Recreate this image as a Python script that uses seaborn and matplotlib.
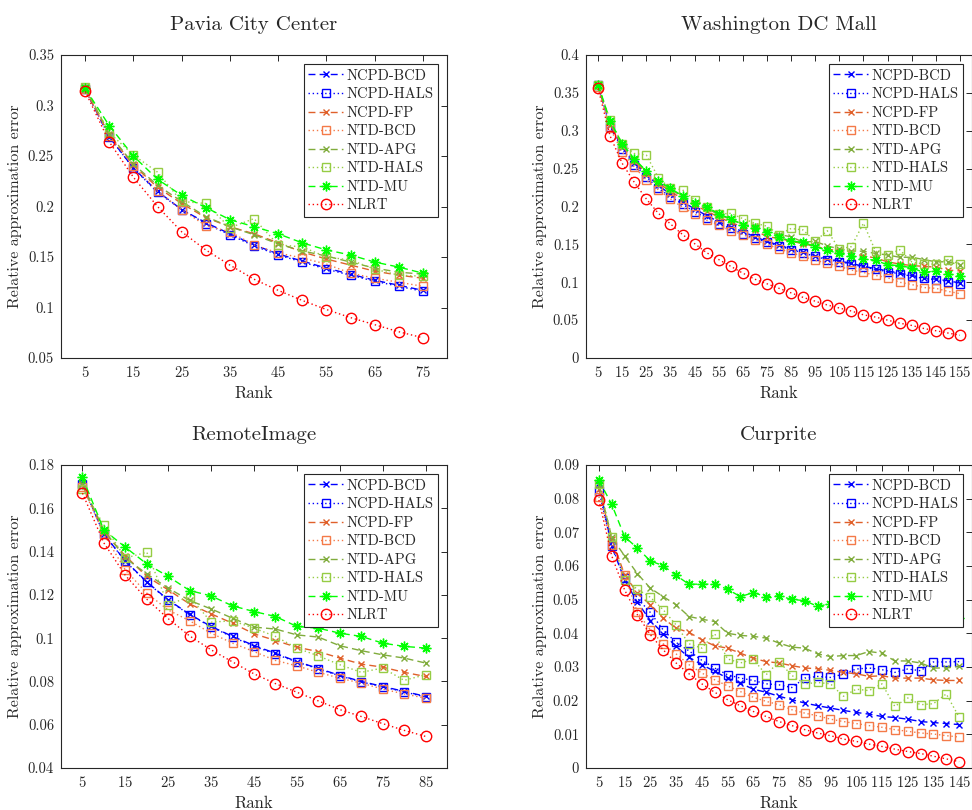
import matplotlib
matplotlib.use("Agg")
import matplotlib.pyplot as plt
import pandas as pd
import seaborn as sns

# ---- data ----
methods = ["NCPD-BCD", "NCPD-HALS", "NCPD-FP", "NTD-BCD", "NTD-APG", "NTD-HALS", "NTD-MU", "NLRT"]

pavia_rank = list(range(5, 80, 5))
pavia_ncpd_bcd = [0.316, 0.269, 0.238, 0.215, 0.197, 0.184, 0.173, 0.162, 0.153, 0.146, 0.139, 0.133, 0.127, 0.122, 0.117]
pavia_ncpd_hals = [0.316, 0.269, 0.238, 0.214, 0.197, 0.183, 0.172, 0.161, 0.152, 0.145, 0.138, 0.132, 0.126, 0.121, 0.116]
pavia_ncpd_fp = [0.316, 0.271, 0.241, 0.219, 0.203, 0.189, 0.180, 0.173, 0.164, 0.155, 0.148, 0.142, 0.136, 0.132, 0.129]
pavia_ntd_bcd = [0.316, 0.270, 0.240, 0.215, 0.197, 0.181, 0.175, 0.162, 0.154, 0.149, 0.143, 0.134, 0.129, 0.125, 0.121]
pavia_ntd_apg = [0.318, 0.272, 0.242, 0.221, 0.205, 0.190, 0.180, 0.172, 0.163, 0.156, 0.151, 0.145, 0.139, 0.135, 0.133]
pavia_ntd_hals = [0.318, 0.273, 0.251, 0.234, 0.205, 0.203, 0.179, 0.188, 0.162, 0.160, 0.150, 0.147, 0.138, 0.132, 0.131]
pavia_ntd_mu = [0.317, 0.280, 0.250, 0.227, 0.211, 0.199, 0.187, 0.180, 0.173, 0.164, 0.157, 0.152, 0.145, 0.140, 0.134]
pavia_nlrt = [0.314, 0.264, 0.229, 0.200, 0.175, 0.157, 0.142, 0.128, 0.117, 0.107, 0.098, 0.090, 0.083, 0.076, 0.070]

dc_rank = list(range(5, 160, 5))
dc_ncpd_bcd = [0.360, 0.307, 0.278, 0.258, 0.242, 0.228, 0.216, 0.206, 0.197, 0.188, 0.180, 0.173, 0.167, 0.160, 0.154, 0.149,
               0.144, 0.140, 0.135, 0.131, 0.128, 0.125, 0.121, 0.118, 0.115, 0.112, 0.109, 0.106, 0.104, 0.102, 0.099]
dc_ncpd_hals = [0.360, 0.305, 0.276, 0.255, 0.239, 0.224, 0.213, 0.203, 0.193, 0.185, 0.177, 0.171, 0.164, 0.158, 0.153, 0.148,
                0.143, 0.139, 0.134, 0.130, 0.127, 0.124, 0.120, 0.117, 0.114, 0.111, 0.108, 0.105, 0.103, 0.100, 0.098]
dc_ncpd_fp = [0.360, 0.308, 0.280, 0.260, 0.244, 0.231, 0.220, 0.210, 0.202, 0.194, 0.186, 0.179, 0.173, 0.169, 0.160, 0.158,
              0.154, 0.151, 0.147, 0.144, 0.141, 0.138, 0.135, 0.132, 0.127, 0.124, 0.122, 0.121, 0.120, 0.116, 0.115]
dc_ntd_bcd = [0.358, 0.303, 0.272, 0.252, 0.235, 0.222, 0.210, 0.199, 0.190, 0.182, 0.175, 0.168, 0.163, 0.156, 0.150, 0.144,
              0.139, 0.134, 0.129, 0.125, 0.121, 0.116, 0.113, 0.109, 0.106, 0.100, 0.097, 0.093, 0.092, 0.088, 0.085]
dc_ntd_apg = [0.361, 0.311, 0.281, 0.262, 0.246, 0.233, 0.223, 0.213, 0.205, 0.198, 0.189, 0.183, 0.176, 0.174, 0.167, 0.163,
              0.160, 0.153, 0.154, 0.148, 0.144, 0.141, 0.141, 0.138, 0.136, 0.133, 0.133, 0.130, 0.127, 0.127, 0.123]
dc_ntd_hals = [0.361, 0.314, 0.283, 0.270, 0.268, 0.238, 0.224, 0.222, 0.209, 0.200, 0.190, 0.191, 0.184, 0.178, 0.174, 0.163,
               0.171, 0.169, 0.154, 0.168, 0.144, 0.147, 0.178, 0.141, 0.136, 0.143, 0.127, 0.124, 0.124, 0.130, 0.124]
dc_ntd_mu = [0.361, 0.313, 0.283, 0.263, 0.247, 0.234, 0.224, 0.214, 0.205, 0.200, 0.190, 0.184, 0.176, 0.171, 0.166, 0.160,
             0.154, 0.153, 0.147, 0.142, 0.138, 0.134, 0.131, 0.129, 0.123, 0.122, 0.119, 0.113, 0.115, 0.111, 0.108]
dc_nlrt = [0.356, 0.293, 0.257, 0.232, 0.210, 0.191, 0.177, 0.163, 0.151, 0.139, 0.130, 0.121, 0.112, 0.104, 0.098, 0.092,
           0.086, 0.080, 0.075, 0.070, 0.066, 0.062, 0.057, 0.054, 0.050, 0.046, 0.043, 0.039, 0.036, 0.033, 0.030]

remote_rank = list(range(5, 90, 5))
remote_ncpd_bcd = [0.1715, 0.148, 0.1357, 0.126, 0.1177, 0.111, 0.1054, 0.1008, 0.0966, 0.093, 0.0892, 0.086, 0.0828, 0.080, 0.0777, 0.0754, 0.0731]
remote_ncpd_hals = [0.171, 0.148, 0.1355, 0.1258, 0.1175, 0.1108, 0.1052, 0.1005, 0.0963, 0.0926, 0.0890, 0.0858, 0.0826, 0.0798, 0.0775, 0.0752, 0.0728]
remote_ncpd_fp = [0.171, 0.149, 0.138, 0.1285, 0.1223, 0.1158, 0.1112, 0.1069, 0.102, 0.0989, 0.0958, 0.0938, 0.0908, 0.088, 0.0866, 0.0842, 0.0823]
remote_ntd_bcd = [0.170, 0.148, 0.1315, 0.1208, 0.113, 0.108, 0.1023, 0.0977, 0.0938, 0.0897, 0.0872, 0.0842, 0.0815, 0.0792, 0.0765, 0.0742, 0.0723]
remote_ntd_apg = [0.171, 0.150, 0.137, 0.1297, 0.1231, 0.1174, 0.1135, 0.1092, 0.1051, 0.1042, 0.1015, 0.1005, 0.0965, 0.0942, 0.0923, 0.0908, 0.0885]
remote_ntd_hals = [0.169, 0.1523, 0.137, 0.1397, 0.1154, 0.1192, 0.1074, 0.108, 0.1046, 0.1008, 0.0954, 0.0918, 0.0877, 0.0842, 0.0862, 0.0805, 0.0831]
remote_ntd_mu = [0.1743, 0.150, 0.142, 0.1343, 0.1285, 0.122, 0.1195, 0.1149, 0.1123, 0.110, 0.1054, 0.1046, 0.1023, 0.1008, 0.0977, 0.0962, 0.0954]
remote_nlrt = [0.167, 0.144, 0.129, 0.118, 0.109, 0.101, 0.0946, 0.089, 0.0835, 0.079, 0.075, 0.071, 0.067, 0.0638, 0.0605, 0.0574, 0.0546]

cup_rank = list(range(5, 150, 5))
cup_ncpd_bcd = [0.0846, 0.0658, 0.0559, 0.0492, 0.0438, 0.0399, 0.0361, 0.0329, 0.0307, 0.0287, 0.0267, 0.0252, 0.0234, 0.0225, 0.0213,
                0.0203, 0.0193, 0.0185, 0.0178, 0.0171, 0.0165, 0.016, 0.0153, 0.015, 0.0145, 0.0138, 0.0135, 0.0132, 0.0129]
cup_ncpd_hals = [0.0824, 0.066, 0.0564, 0.0504, 0.0462, 0.041, 0.0373, 0.0348, 0.032, 0.0297, 0.0277, 0.0267, 0.026, 0.025, 0.0247,
                 0.0239, 0.0267, 0.0272, 0.0269, 0.0279, 0.0294, 0.0297, 0.0292, 0.0284, 0.0294, 0.0289, 0.0315, 0.0315, 0.0316]
cup_ncpd_fp = [0.083, 0.068, 0.0574, 0.0519, 0.0485, 0.0445, 0.0415, 0.0403, 0.0381, 0.0363, 0.0356, 0.0341, 0.0326, 0.0316, 0.0312,
               0.0304, 0.0297, 0.0295, 0.029, 0.0284, 0.028, 0.0272, 0.0274, 0.0267, 0.0267, 0.0267, 0.0262, 0.026, 0.026]
cup_ntd_bcd = [0.0806, 0.0662, 0.0574, 0.0462, 0.041, 0.0369, 0.0339, 0.0307, 0.0282, 0.0262, 0.0244, 0.0227, 0.021, 0.0198, 0.0188,
               0.0173, 0.0163, 0.0155, 0.0145, 0.0138, 0.0132, 0.0126, 0.0121, 0.0114, 0.0109, 0.0104, 0.0101, 0.0096, 0.0092]
cup_ntd_apg = [0.084, 0.0685, 0.063, 0.0577, 0.0534, 0.0509, 0.0485, 0.045, 0.0442, 0.0435, 0.04, 0.0394, 0.0391, 0.0386, 0.0371,
               0.0359, 0.0356, 0.0339, 0.0331, 0.0334, 0.0334, 0.0346, 0.0341, 0.0318, 0.0318, 0.0312, 0.0297, 0.0297, 0.0302]
cup_ntd_hals = [0.0845, 0.0685, 0.0559, 0.0531, 0.0507, 0.047, 0.0425, 0.0369, 0.0356, 0.0399, 0.0324, 0.0312, 0.0323, 0.0277, 0.0316,
                0.0275, 0.025, 0.0254, 0.025, 0.0213, 0.0234, 0.023, 0.025, 0.0183, 0.0208, 0.0188, 0.0191, 0.022, 0.0151]
cup_ntd_mu = [0.0855, 0.0783, 0.0687, 0.0653, 0.0615, 0.0601, 0.0572, 0.0546, 0.0546, 0.0546, 0.0531, 0.0509, 0.0521, 0.0509, 0.0511,
              0.0501, 0.0497, 0.048, 0.0488, 0.049, 0.0485, 0.048, 0.047, 0.0465, 0.046, 0.0452, 0.0445, 0.0442, 0.0445]
cup_nlrt = [0.0796, 0.063, 0.0529, 0.0455, 0.0396, 0.0351, 0.0312, 0.028, 0.025, 0.0225, 0.0203, 0.0185, 0.0168, 0.0153, 0.0138,
            0.0126, 0.0114, 0.0104, 0.0096, 0.0086, 0.0079, 0.0071, 0.0064, 0.0056, 0.0049, 0.0043, 0.0035, 0.0027, 0.0019]

# line styles per method: (color, linestyle, marker)
styles = {
    "NCPD-BCD": ("#0000FF", "--", "x"),
    "NCPD-HALS": ("#0000FF", ":", "s"),
    "NCPD-FP": ("#E0602A", "--", "x"),
    "NTD-BCD": ("#F47A48", ":", "s"),
    "NTD-APG": ("#80AC3C", "--", "x"),
    "NTD-HALS": ("#96CC44", ":", "s"),
    "NTD-MU": ("#00FF00", "--", (8, 2, 0)),
    "NLRT": ("#FF0000", ":", "o"),
}


def make_df(rank, series):
    rows = []
    for name, vals in zip(methods, series):
        for r, v in zip(rank, vals):
            rows.append({"Rank": r, "err": v, "method": name})
    return pd.DataFrame(rows)


panels = [
    ("Pavia City Center", make_df(pavia_rank, [pavia_ncpd_bcd, pavia_ncpd_hals, pavia_ncpd_fp, pavia_ntd_bcd,
                                               pavia_ntd_apg, pavia_ntd_hals, pavia_ntd_mu, pavia_nlrt]),
     (0, 80), range(5, 80, 10), (0.05, 0.35), [0.05, 0.1, 0.15, 0.2, 0.25, 0.3, 0.35]),
    ("Washington DC Mall", make_df(dc_rank, [dc_ncpd_bcd, dc_ncpd_hals, dc_ncpd_fp, dc_ntd_bcd,
                                             dc_ntd_apg, dc_ntd_hals, dc_ntd_mu, dc_nlrt]),
     (0, 160), range(5, 160, 10), (0, 0.4), [0, 0.05, 0.1, 0.15, 0.2, 0.25, 0.3, 0.35, 0.4]),
    ("RemoteImage", make_df(remote_rank, [remote_ncpd_bcd, remote_ncpd_hals, remote_ncpd_fp, remote_ntd_bcd,
                                          remote_ntd_apg, remote_ntd_hals, remote_ntd_mu, remote_nlrt]),
     (0, 90), range(5, 90, 10), (0.04, 0.18), [0.04, 0.06, 0.08, 0.1, 0.12, 0.14, 0.16, 0.18]),
    ("Curprite", make_df(cup_rank, [cup_ncpd_bcd, cup_ncpd_hals, cup_ncpd_fp, cup_ntd_bcd,
                                    cup_ntd_apg, cup_ntd_hals, cup_ntd_mu, cup_nlrt]),
     (0, 150), range(5, 150, 10), (0, 0.09), [0, 0.01, 0.02, 0.03, 0.04, 0.05, 0.06, 0.07, 0.08, 0.09]),
]

sns.set_style("white")
plt.rcParams["font.family"] = ["cmr10", "DejaVu Serif"]
plt.rcParams["mathtext.fontset"] = "cm"
plt.rcParams["axes.formatter.use_mathtext"] = True
plt.rcParams["axes.unicode_minus"] = False

fig = plt.figure(figsize=(9.72, 8.1), dpi=100)
boxes = [(61, 55), (586, 55), (61, 465), (586, 465)]
W, H = 972.0, 810.0
gray = "#262626"

for (title, df, xl, xt, yl, yt), (x0, y0) in zip(panels, boxes):
    ax = fig.add_axes([x0 / W, 1 - (y0 + 303) / H, 386 / W, 303 / H])
    for name in methods:
        c, ls, mk = styles[name]
        sub = df[df["method"] == name]
        ms = {"x": 5, "s": 6, "o": 7.5}.get(mk, 7) if isinstance(mk, str) else 7
        line_kw = dict(dashes=(5, 3)) if ls == "--" else dict(dashes=(1, 2))
        sns.lineplot(data=sub, x="Rank", y="err", ax=ax, color=c, marker=mk, markersize=ms,
                     markerfacecolor="none", markeredgecolor=c, markeredgewidth=1.0,
                     linewidth=1.0, label=name, **line_kw)
    ax.set_xlim(*xl)
    ax.set_ylim(*yl)
    ax.set_xticks(list(xt))
    ax.set_yticks(yt)
    ax.set_yticklabels(["%g" % v for v in yt])
    ax.tick_params(direction="in", length=4, width=0.7, top=True, right=True,
                   labelsize=10.5, colors=gray, pad=5)
    for s in ax.spines.values():
        s.set_color(gray)
        s.set_linewidth(0.8)
    ax.set_title(title, fontsize=15, pad=18)
    ax.set_xlabel("Rank", fontsize=12, color=gray, labelpad=4)
    ax.set_ylabel("Relative approximation error", fontsize=11.5, color=gray, labelpad=4)
    leg = ax.legend(loc="upper right", fontsize=10.5, frameon=True, fancybox=False,
                    edgecolor=gray, framealpha=1, borderaxespad=0.65, handlelength=2.4,
                    handletextpad=0.2, labelspacing=0.33, borderpad=0.3)
    leg.get_frame().set_linewidth(0.8)

fig.savefig("out.png", dpi=100)
